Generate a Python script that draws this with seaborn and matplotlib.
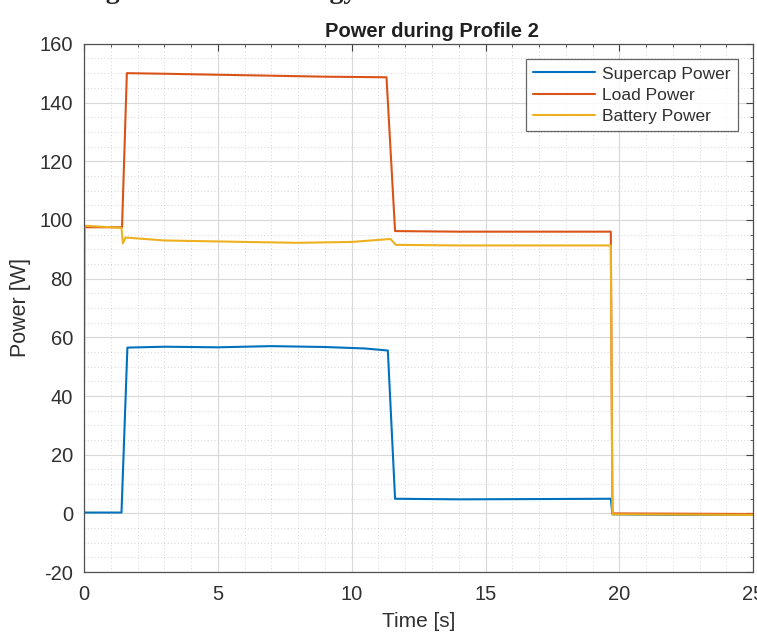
import numpy as np
import pandas as pd
import matplotlib
matplotlib.use("Agg")
import matplotlib.pyplot as plt
from matplotlib.ticker import MultipleLocator
import seaborn as sns

# breakpoints
time_supercap = [0, 1.40, 1.62, 3.0, 5.0, 7.0, 9.0, 10.5, 11.35, 11.62, 14.0, 17.0, 19.68, 19.74, 22.0, 25.0]
supercap_power = [0.3, 0.3, 56.5, 56.8, 56.6, 57.0, 56.7, 56.2, 55.5, 5.0, 4.8, 4.9, 5.0, -0.3, -0.5, -0.5]

time_load = [0, 1.42, 1.60, 3.0, 6.0, 9.0, 11.3, 11.62, 14.0, 17.0, 19.68, 19.74, 25.0]
load_power = [97.5, 97.5, 150.0, 149.8, 149.3, 148.8, 148.6, 96.2, 96.0, 96.0, 96.0, 0.0, -0.2]

time_battery = [0, 0.03, 1.40, 1.45, 1.55, 3.0, 6.0, 8.0, 10.0, 11.45, 11.65, 14.0, 17.0, 19.68, 19.74, 25.0]
battery_power = [45.0, 98.0, 97.3, 92.0, 94.0, 93.0, 92.5, 92.2, 92.5, 93.5, 91.5, 91.3, 91.3, 91.3, -0.3, -0.5]

series_names = ["Supercap Power", "Load Power", "Battery Power"]
series_colors = ["#0072BD", "#D95319", "#EDB120"]

df = pd.concat([
    pd.DataFrame({"Time": time_supercap, "Power": supercap_power, "Signal": series_names[0]}),
    pd.DataFrame({"Time": time_load, "Power": load_power, "Signal": series_names[1]}),
    pd.DataFrame({"Time": time_battery, "Power": battery_power, "Signal": series_names[2]}),
], ignore_index=True)

sns.set_style("white")
plt.rcParams["font.family"] = ["Liberation Sans", "DejaVu Sans"]
plt.rcParams["axes.unicode_minus"] = False

fig = plt.figure(figsize=(7.57, 6.35), dpi=100)
ax = fig.add_axes([0.111, 0.099, 0.884, 0.832])

sns.lineplot(data=df, x="Time", y="Power", hue="Signal", hue_order=series_names,
             palette=series_colors, estimator=None, sort=False, linewidth=1.5, ax=ax)

ax.set_xlim(0, 25)
ax.set_ylim(-20, 160)
ax.xaxis.set_major_locator(MultipleLocator(5))
ax.xaxis.set_minor_locator(MultipleLocator(1))
ax.yaxis.set_major_locator(MultipleLocator(20))
ax.yaxis.set_minor_locator(MultipleLocator(5))
ax.grid(which="major", color="#d8d8d8", linewidth=0.8)
ax.grid(which="minor", color="#c8c8c8", linewidth=0.6, linestyle=(0, (1, 3)))
ax.set_axisbelow(True)
ax.tick_params(which="both", direction="in", top=True, right=True, colors="#404040",
               labelcolor="#303030", labelsize=14.5)
ax.tick_params(axis="y", which="major", length=5, pad=8)
ax.tick_params(axis="x", which="major", length=5, pad=9)
ax.tick_params(which="minor", length=2.5)
for s in ax.spines.values():
    s.set_color("#505050")
    s.set_linewidth(0.9)

ax.set_title("Power during Profile 2", fontsize=14.5, fontweight="bold", color="#202020",
             pad=5, x=0.52)
ax.set_xlabel("Time [s]", fontsize=15, color="#303030", labelpad=6)
ax.set_ylabel("Power [W]", fontsize=15.5, color="#303030", labelpad=6)

leg = ax.legend(loc="upper right", fontsize=12.5, handlelength=3.6, frameon=True,
                fancybox=False, edgecolor="#404040", borderaxespad=0.9,
                labelspacing=0.35, handletextpad=0.4, borderpad=0.4)
leg.get_frame().set_linewidth(0.9)
for t in leg.get_texts():
    t.set_color("#303030")

# caption text of the page above, mostly cut off
fig.text(82 / 757, 1 + 2 / 635, "Figure", fontsize=20, fontweight="bold",
         family="Liberation Serif", va="baseline", ha="left")
fig.text(272 / 757, 1 + 2 / 635, "Energy", fontsize=20, fontweight="bold",
         family="Liberation Serif", va="baseline", ha="left")

fig.savefig("out.png", dpi=100)
